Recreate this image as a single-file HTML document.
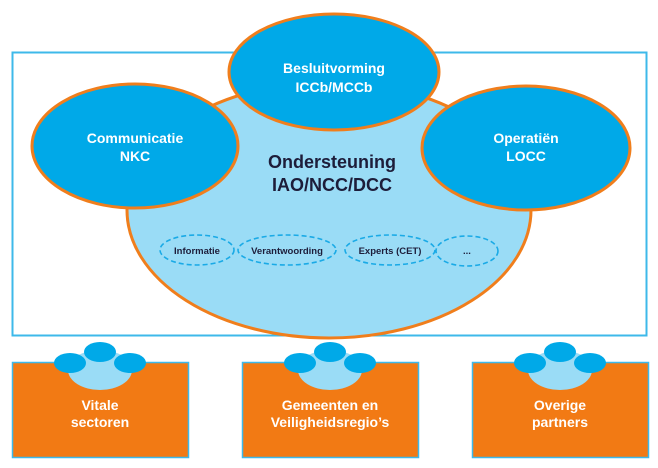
<!DOCTYPE html>
<html><head><style>body{margin:0;background:#fff}svg{display:block}text{font-family:"Liberation Sans",sans-serif;font-weight:bold;text-anchor:middle}</style></head>
<body>
<svg width="658" height="468" viewBox="0 0 658 468">
<rect x="12.5" y="52.5" width="634" height="283" fill="#fff" stroke="#3db9ea" stroke-width="2"/>
<ellipse cx="329" cy="210" rx="202" ry="128" fill="#9adcf6" stroke="#f07e1c" stroke-width="3"/>
<ellipse cx="135" cy="146" rx="103" ry="62" fill="#00a9e8" stroke="#f07e1c" stroke-width="3"/>
<ellipse cx="526" cy="148" rx="104" ry="62" fill="#00a9e8" stroke="#f07e1c" stroke-width="3"/>
<ellipse cx="334" cy="72" rx="105" ry="58" fill="#00a9e8" stroke="#f07e1c" stroke-width="3"/>
<g fill="#fff" font-size="14">
<text x="334" y="73">Besluitvorming</text><text x="334" y="92">ICCb/MCCb</text>
<text x="135" y="143">Communicatie</text><text x="135" y="161">NKC</text>
<text x="526" y="143">Operatiën</text><text x="526" y="161">LOCC</text>
</g>
<g fill="#1d1d3a" font-size="18"><text x="332" y="168">Ondersteuning</text><text x="332" y="191">IAO/NCC/DCC</text></g>
<g fill="none" stroke="#1aaae6" stroke-width="1.6" stroke-dasharray="5,3">
<ellipse cx="197" cy="250" rx="37" ry="15"/><ellipse cx="287" cy="250" rx="49" ry="15"/>
<ellipse cx="390" cy="250" rx="45" ry="15"/><ellipse cx="467" cy="251" rx="31" ry="15"/>
</g>
<g fill="#1d1d3a" font-size="9.5"><text x="197" y="254">Informatie</text><text x="287" y="254">Verantwoording</text><text x="390" y="254">Experts (CET)</text><text x="467" y="254">...</text></g>
<defs><g id="b">
<rect x="12.5" y="362.5" width="176" height="95" fill="#f27a14" stroke="#3db9ea" stroke-width="1.5"/>
<ellipse cx="100" cy="370" rx="32" ry="20" fill="#9adcf6"/>
<ellipse cx="70" cy="363" rx="16" ry="10" fill="#00a9e8"/>
<ellipse cx="130" cy="363" rx="16" ry="10" fill="#00a9e8"/>
<ellipse cx="100" cy="352" rx="16" ry="10" fill="#00a9e8"/>
</g></defs>
<use href="#b"/><use href="#b" x="230"/><use href="#b" x="460"/>
<g fill="#fff" font-size="14">
<text x="100" y="410">Vitale</text><text x="100" y="427">sectoren</text>
<text x="330" y="410">Gemeenten en</text><text x="330" y="427">Veiligheidsregio’s</text>
<text x="560" y="410">Overige</text><text x="560" y="427">partners</text>
</g>
</svg>
</body></html>
